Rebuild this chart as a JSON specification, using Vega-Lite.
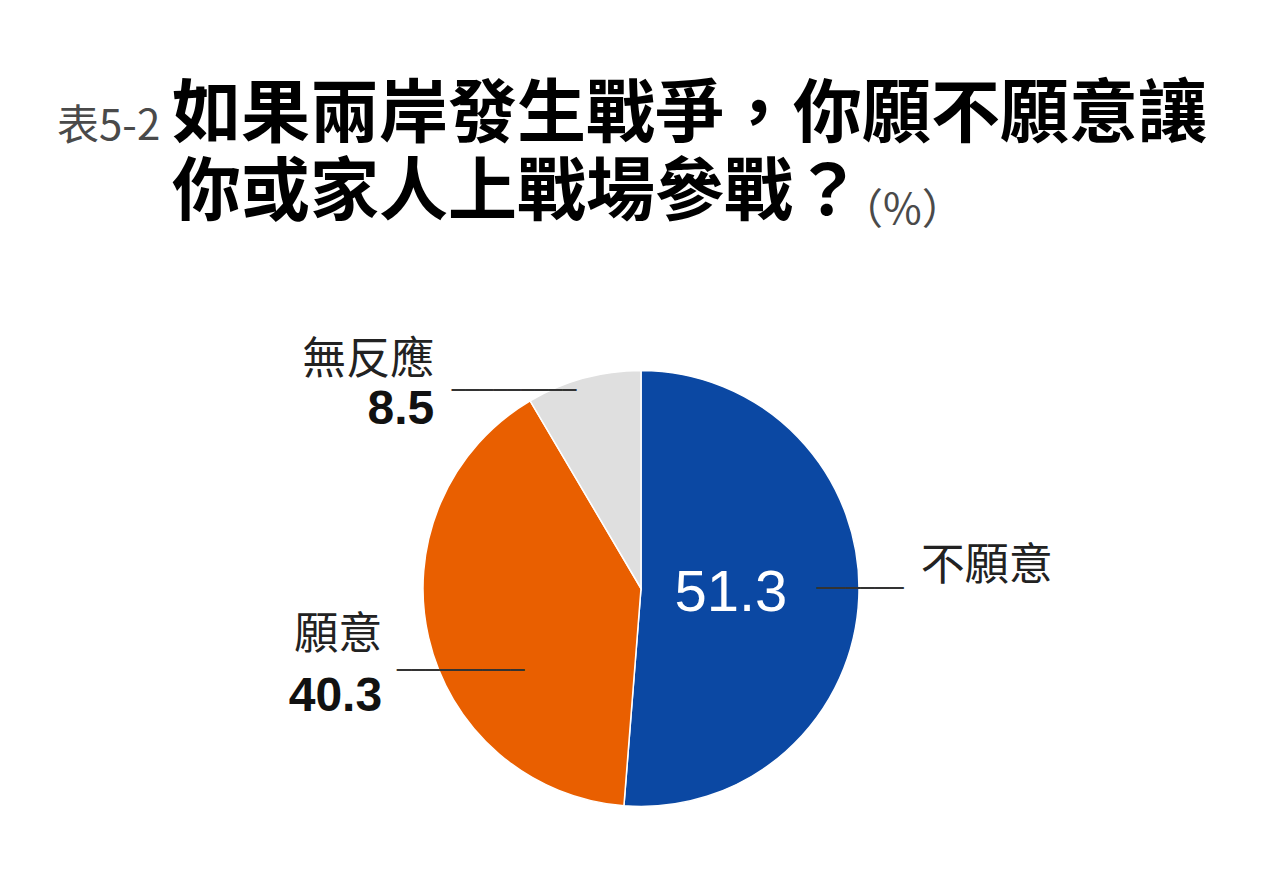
{
  "$schema": "https://vega.github.io/schema/vega-lite/v6.json",
  "width": 1282,
  "height": 870,
  "autosize": {"type": "fit", "contains": "padding"},
  "padding": {"top": 82, "left": 0, "right": 0, "bottom": 0},
  "background": "#ffffff",
  "title": {
    "text": ["表5-2", "\u200b\u3000\u3000\u3000\u3000\u3000\u3000\u3000\u3000\u3000\u3000\u3000\u3000\u3000\u3000\u3000\u3000\u3000\u3000\u2002\u2006（%）"],
    "subtitle": ["\u200b\u3000\u2002\u2006如果兩岸發生戰爭，你願不願意讓", "\u200b\u3000\u2002\u2006你或家人上戰場參戰？"],
    "anchor": "start",
    "frame": "group",
    "dx": 57,
    "offset": 50,
    "font": "Noto Sans CJK TC",
    "fontSize": 42,
    "fontWeight": "normal",
    "color": "#4a4a4a",
    "lineHeight": 84,
    "subtitleFont": "Noto Sans CJK TC",
    "subtitleFontSize": 69,
    "subtitleFontWeight": "bold",
    "subtitleColor": "#000000",
    "subtitleLineHeight": 78,
    "subtitlePadding": -151
  },
  "data": {
    "values": [
      {"answer": "不願意", "pct": 51.3},
      {"answer": "願意", "pct": 40.3},
      {"answer": "無反應", "pct": 8.5}
    ]
  },
  "encoding": {
    "theta": {"field": "pct", "type": "quantitative", "stack": true},
    "order": {"field": "pct", "type": "quantitative", "sort": "descending"}
  },
  "layer": [
    {
      "mark": {"type": "arc", "outerRadius": 218, "stroke": "#ffffff", "strokeWidth": 1.5},
      "encoding": {
        "color": {
          "field": "answer",
          "type": "nominal",
          "scale": {"domain": ["不願意", "願意", "無反應"], "range": ["#0b48a3", "#e95f00", "#dfdfdf"]},
          "legend": null
        }
      }
    },
    {
      "mark": {"type": "text", "radius": 90, "dy": 2, "font": "Liberation Sans", "fontSize": 58, "color": "#ffffff", "align": "center", "baseline": "middle"},
      "encoding": {
        "text": {"condition": {"test": "datum.answer === '不願意'", "field": "pct", "type": "quantitative", "format": ".1f"}, "value": ""}
      }
    },
    {
      "mark": {"type": "text", "radius": 200, "dx": 80, "dy": -29, "font": "Noto Sans CJK TC", "fontSize": 44, "color": "#222222", "align": "left", "baseline": "middle"},
      "encoding": {
        "text": {"condition": {"test": "datum.answer === '不願意'", "field": "answer"}, "value": ""}
      }
    },
    {
      "mark": {"type": "text", "radius": 200, "dx": -24, "dy": -7, "font": "DejaVu Sans", "fontSize": 24, "color": "#333333", "align": "left", "baseline": "middle"},
      "encoding": {
        "text": {"condition": {"test": "datum.answer === '不願意'", "value": "──────"}, "value": ""}
      }
    },
    {
      "mark": {"type": "text", "radius": 200, "dx": -64, "dy": 2, "font": "Noto Sans CJK TC", "fontSize": 44, "color": "#222222", "align": "right", "baseline": "middle"},
      "encoding": {
        "text": {"condition": {"test": "datum.answer === '願意'", "field": "answer"}, "value": ""}
      }
    },
    {
      "mark": {"type": "text", "radius": 200, "dx": -64, "dy": 63, "font": "Liberation Sans", "fontSize": 48, "fontWeight": "bold", "color": "#111111", "align": "right", "baseline": "middle"},
      "encoding": {
        "text": {"condition": {"test": "datum.answer === '願意'", "field": "pct", "type": "quantitative", "format": ".1f"}, "value": ""}
      }
    },
    {
      "mark": {"type": "text", "radius": 200, "dx": 78, "dy": 37, "font": "DejaVu Sans", "fontSize": 23.5, "color": "#333333", "align": "right", "baseline": "middle"},
      "encoding": {
        "text": {"condition": {"test": "datum.answer === '願意'", "value": "─────────"}, "value": ""}
      }
    },
    {
      "mark": {"type": "text", "radius": 200, "dx": -154, "dy": -35, "font": "Noto Sans CJK TC", "fontSize": 44, "color": "#222222", "align": "right", "baseline": "middle"},
      "encoding": {
        "text": {"condition": {"test": "datum.answer === '無反應'", "field": "answer"}, "value": ""}
      }
    },
    {
      "mark": {"type": "text", "radius": 200, "dx": -154, "dy": 14, "font": "Liberation Sans", "fontSize": 48, "fontWeight": "bold", "color": "#111111", "align": "right", "baseline": "middle"},
      "encoding": {
        "text": {"condition": {"test": "datum.answer === '無反應'", "field": "pct", "type": "quantitative", "format": ".1f"}, "value": ""}
      }
    },
    {
      "mark": {"type": "text", "radius": 200, "dx": -12, "dy": -5, "font": "DejaVu Sans", "fontSize": 23, "color": "#333333", "align": "right", "baseline": "middle"},
      "encoding": {
        "text": {"condition": {"test": "datum.answer === '無反應'", "value": "─────────"}, "value": ""}
      }
    }
  ],
  "config": {
    "view": {"stroke": null}
  }
}
